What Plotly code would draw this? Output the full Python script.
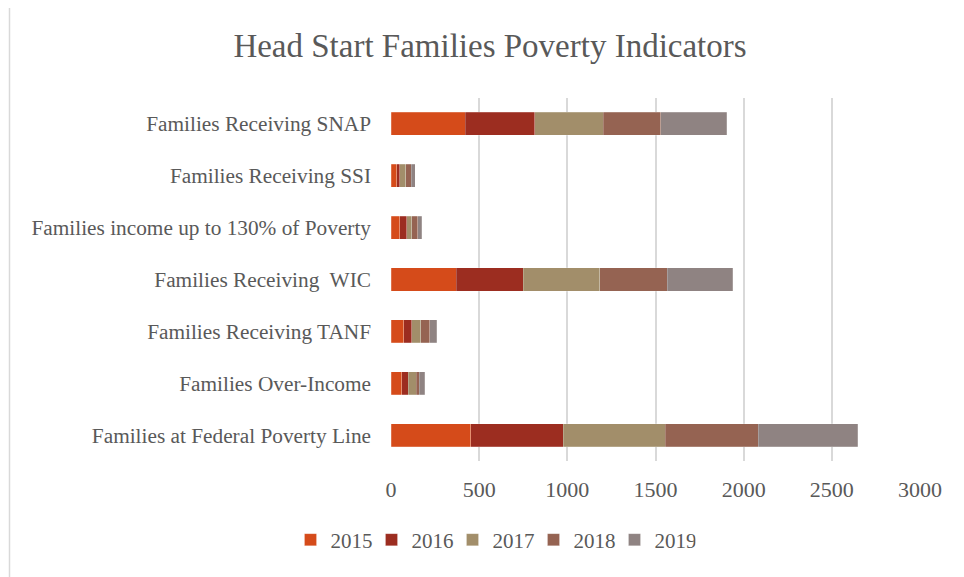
import plotly.graph_objects as go

categories = [
    "Families at Federal Poverty Line",
    "Families Over-Income",
    "Families Receiving TANF",
    "Families Receiving  WIC",
    "Families income up to 130% of Poverty",
    "Families Receiving SSI",
    "Families Receiving SNAP",
]
years = ["2015", "2016", "2017", "2018", "2019"]
v2015 = [451, 62, 72, 370, 49, 32, 420]
v2016 = [525, 36, 47, 380, 41, 19, 395]
v2017 = [580, 44, 49, 435, 28, 34, 389]
v2018 = [527, 19, 53, 382, 34, 30, 326]
v2019 = [564, 30, 38, 372, 23, 23, 373]
series = [v2015, v2016, v2017, v2018, v2019]
colors = ["#D54B1A", "#9C2D20", "#A28E6A", "#956352", "#8F8382"]
x_ticks = [0, 500, 1000, 1500, 2000, 2500, 3000]

font_family = "Liberation Serif, DejaVu Serif, serif"
grey = "#595959"

W, H = 956, 569
L, R, T, B = 383, 44, 90, 116
pw, ph = W - L - R, H - T - B

fig = go.Figure()
for name, vals, col in zip(years, series, colors):
    fig.add_trace(go.Bar(
        y=categories, x=vals, name=name, orientation="h",
        marker=dict(color=col, line=dict(color="rgba(255,255,255,0.35)", width=0.6)),
    ))

fig.update_layout(
    barmode="stack",
    bargap=0.555,
    width=W, height=H,
    paper_bgcolor="white", plot_bgcolor="white",
    margin=dict(l=L, r=R, t=T, b=B, autoexpand=False),
    title=dict(text="Head Start Families Poverty Indicators", x=(482 - L) / pw, xref="paper",
               xanchor="center", y=1 - 37 / H, yanchor="middle",
               font=dict(family=font_family, size=33, color=grey)),
    font=dict(family=font_family, size=20, color=grey),
    xaxis=dict(range=[0, 3000], tickvals=x_ticks, showgrid=True, gridcolor="#D9D9D9",
               gridwidth=1.5, zeroline=False, showline=False, ticks="",
               ticklabelstandoff=13,
               tickfont=dict(family=font_family, size=22, color=grey)),
    yaxis=dict(showgrid=False, showline=False, ticks="", ticklabelstandoff=19,
               tickfont=dict(family=font_family, size=21.3, color=grey)),
    legend=dict(orientation="h", x=(485 - L) / pw, xanchor="center",
                y=(ph - (532 - T)) / ph, yanchor="middle",
                font=dict(family=font_family, size=21, color=grey), traceorder="normal",
                itemwidth=30, entrywidth=36, entrywidthmode="pixels"),
    showlegend=True,
    shapes=[dict(type="line", xref="paper", yref="paper",
                 x0=(1.5 - L) / pw, x1=(1.5 - L) / pw, y0=-B / ph - 0.1, y1=1 + T / ph + 0.1,
                 line=dict(color="#D9D9D9", width=1.5))],
)

fig.write_html("out.html")
